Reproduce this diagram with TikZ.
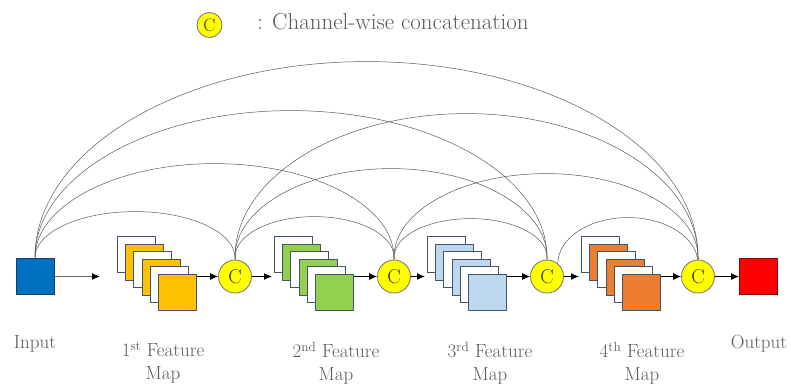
\documentclass[tikz,border=0pt]{standalone}
\usepackage{fontspec}
\usetikzlibrary{arrows.meta,calc}
\pgfdeclarelayer{bg}
\pgfsetlayers{bg,main}
\definecolor{inblue}{HTML}{0070C0}
\definecolor{inedge}{HTML}{1F3864}
\definecolor{outred}{HTML}{FF0000}
\definecolor{outedge}{HTML}{8B0000}
\definecolor{fmorange}{HTML}{FFC000}
\definecolor{fmgreen}{HTML}{92D050}
\definecolor{fmblue}{HTML}{BDD7EE}
\definecolor{fmdorange}{HTML}{ED7D31}
\definecolor{fmedge}{HTML}{44546A}
\definecolor{cyel}{HTML}{FFFF00}
\definecolor{txtgray}{HTML}{5A5A5A}
\newcommand{\skiparcdraw}[4]{%
  \draw[skiparc] let \p1=(#1), \p2=(#2) in (\p1) -- ++(0pt,#3pt)
    arc[start angle=180,end angle=0,x radius={(\x2-\x1)/2},y radius=#4pt] -- (\p2);}
\begin{document}
\begin{tikzpicture}[x=1pt,y=1pt,
  sqbox/.style={draw=#1, line width=0.8pt, minimum width=38pt, minimum height=36pt, inner sep=0pt},
  fmbox/.style={draw=fmedge, line width=0.8pt, minimum width=38pt, minimum height=36pt, inner sep=0pt, anchor=north west},
  catnode/.style={circle, fill=cyel, draw=black!55, line width=0.8pt, minimum size=33pt, inner sep=0pt, text=black!80, font=\fontsize{20}{20}\selectfont},
  arr/.style={-{Latex[length=8pt,width=7pt,color=black]}, line width=1pt, black},
  skiparc/.style={line width=0.5pt, black!65},
  lbl/.style={inner sep=0pt, text=txtgray, font=\fontsize{19}{23}\selectfont}]
\useasboundingbox (0,0) rectangle (791,384);

% input / output
\node[sqbox=inedge, fill=inblue] (in) at (35,108) {};
\node[sqbox=outedge, fill=outred] (out) at (758.5,108) {};

% feature map stacks
\foreach \k/\x/\col in {1/117/fmorange,2/274/fmgreen,3/427/fmblue,4/581/fmdorange}{
  \foreach \i/\f in {0/white,1/\col,2/white,3/\col,4/white,5/\col}{
    \node[fmbox, fill=\f] (s\k-\i) at ({\x+8.2*\i},{148-7.6*\i}) {};
  }
}

% concatenation nodes
\node[catnode] (c1) at (235,107.5) {C};
\node[catnode] (c2) at (394,107.5) {C};
\node[catnode] (c3) at (547,107.5) {C};
\node[catnode] (c4) at (698,107.5) {C};

% arrow targets
\coordinate (a1) at (100,107.5);
\coordinate (a2) at (272,107.5);
\coordinate (a3) at (425,107.5);
\coordinate (a4) at (579,107.5);

\draw[arr, draw=black!60] (in.east |- a1) -- (a1);
\draw[arr] (s1-5.east |- c1.west) -- (c1.west);
\draw[arr] (c1.east) -- (a2);
\draw[arr] (s2-5.east |- c2.west) -- (c2.west);
\draw[arr] (c2.east) -- (a3);
\draw[arr] (s3-5.east |- c3.west) -- (c3.west);
\draw[arr] (c3.east) -- (a4);
\draw[arr] (s4-5.east |- c4.west) -- (c4.west);
\draw[arr] (c4.east) -- (out.west |- c4.east);

% skip connections
\begin{pgfonlayer}{bg}
\skiparcdraw{in.north}{c1.north}{0}{46}
\skiparcdraw{in.north}{c2.north}{0}{94}
\skiparcdraw{in.north}{c3.north}{0}{147}
\skiparcdraw{in.north}{c4.north}{0}{196}
\skiparcdraw{c1.north}{c2.north}{2.5}{40.5}
\skiparcdraw{c1.north}{c3.north}{2.5}{88.5}
\skiparcdraw{c1.north}{c4.north}{2.5}{143.5}
\skiparcdraw{c2.north}{c3.north}{2.5}{38.5}
\skiparcdraw{c2.north}{c4.north}{2.5}{83.5}
\skiparcdraw{c3.50}{c4.north}{0}{46}
\end{pgfonlayer}

% labels
\node[lbl, anchor=base] (lin) at (35,36) {Input};
\node[lbl, anchor=base] (lout) at (759,36) {Output};
\node[lbl, align=center, anchor=north] (l1) at (163,42) {1\textsuperscript{st} Feature\\Map};
\node[lbl, align=center, anchor=north] (l2) at (336,42) {2\textsuperscript{nd} Feature\\Map};
\node[lbl, align=center, anchor=north] (l3) at (490,42) {3\textsuperscript{rd} Feature\\Map};
\node[lbl, align=center, anchor=north] (l4) at (642,42) {4\textsuperscript{th} Feature\\Map};

% legend
\node[catnode, minimum size=25pt, font=\fontsize{18}{18}\selectfont] (lc) at (209.5,359) {C};
\node[lbl, anchor=base west, font=\fontsize{23}{26}\selectfont] (lt) at (257,355) {: Channel-wise concatenation};
\end{tikzpicture}
\end{document}
